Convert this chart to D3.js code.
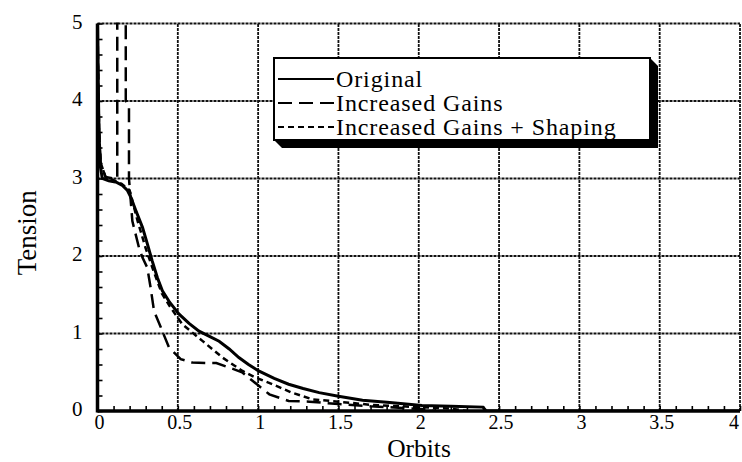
<!DOCTYPE html>
<html>
<head>
<meta charset="utf-8">
<script src="https://cdn.jsdelivr.net/npm/d3@7"></script>
<style>
  body { margin: 0; background: #fff; }
  text { font-family: "Liberation Serif", "DejaVu Serif", serif; fill: #000; }
</style>
</head>
<body>
<div id="chart"></div>
<script>
// tick labels
const xTicks = [0, 0.5, 1, 1.5, 2, 2.5, 3, 3.5, 4]
const yTicks = [0, 1, 2, 3, 4, 5]

// Original
const origX = [0, 0.004, 0.008, 0.012, 0.018, 0.03, 0.07, 0.12, 0.155, 0.185, 0.207, 0.238, 0.28, 0.31, 0.34, 0.373, 0.404, 0.45, 0.508, 0.57, 0.632, 0.7, 0.757, 0.82, 0.88, 0.94, 1.0, 1.1, 1.19, 1.28, 1.38, 1.5, 1.65, 1.82, 2.02, 2.2, 2.4, 2.42, 4.0]
const origY = [5.0, 4.3, 3.8, 3.4, 3.15, 3.0, 2.97, 2.95, 2.91, 2.85, 2.76, 2.59, 2.37, 2.16, 1.94, 1.72, 1.55, 1.4, 1.25, 1.13, 1.03, 0.96, 0.9, 0.8, 0.69, 0.6, 0.52, 0.42, 0.345, 0.29, 0.237, 0.19, 0.14, 0.11, 0.07, 0.06, 0.05, 0, 0]

// Increased Gains
const gainX = [0, 0.005, 0.01, 0.02, 0.05, 0.1, 0.123, 0.123, 0.176, 0.176, 0.196, 0.196, 0.217, 0.258, 0.28, 0.31, 0.33, 0.352, 0.394, 0.445, 0.518, 0.59, 0.68, 0.74, 0.82, 0.9, 0.965, 1.07, 1.19, 1.32, 1.5, 1.7, 1.9, 2.05, 2.1]
const gainY = [5.0, 4.2, 3.6, 3.2, 3.02, 3.0, 3.0, 5.3, 5.3, 4.0, 3.95, 3.0, 2.45, 2.11, 1.98, 1.85, 1.6, 1.29, 1.08, 0.82, 0.67, 0.625, 0.62, 0.62, 0.56, 0.5, 0.39, 0.215, 0.13, 0.12, 0.09, 0.06, 0.04, 0.02, 0]

// Increased Gains + Shaping
const shapeX = [0, 0.005, 0.01, 0.02, 0.05, 0.1, 0.15, 0.2, 0.25, 0.3, 0.35, 0.4, 0.45, 0.528, 0.653, 0.778, 0.9, 0.986, 1.09, 1.21, 1.34, 1.5, 1.7, 1.9, 2.0, 2.2, 2.3]
const shapeY = [5.0, 4.2, 3.6, 3.2, 3.02, 2.98, 2.93, 2.85, 2.45, 2.1, 1.8, 1.52, 1.35, 1.12, 0.905, 0.69, 0.52, 0.43, 0.345, 0.237, 0.15, 0.12, 0.08, 0.06, 0.05, 0.03, 0]

const names = ["Original", "Increased Gains", "Increased Gains + Shaping"]
const dashes = [null, "14,7", "6,4"]

const width = 742, height = 462
const margin = { left: 97.5, right: 2, top: 23.5, bottom: 51 }

var svg = d3.select("#chart").append("svg")
  .attr("width", width)
  .attr("height", height)

var x = d3.scaleLinear().domain([0, 4]).range([margin.left, width - margin.right])
var y = d3.scaleLinear().domain([0, 5]).range([height - margin.bottom, margin.top])

svg.append("clipPath").attr("id", "clip")
  .append("rect")
    .attr("x", x(0)).attr("y", y(5) - 1)
    .attr("width", x(4) - x(0) + 2).attr("height", y(0) - y(5) + 1)

// Grid
var grid = svg.append("g")
  .attr("stroke", "#111")
  .attr("stroke-width", 1.8)
  .attr("stroke-dasharray", "3,1")

grid.selectAll(".vg").data(xTicks.slice(1)).enter()
  .append("line")
    .attr("x1", d => x(d)).attr("x2", d => x(d))
    .attr("y1", y(0)).attr("y2", y(5))

grid.selectAll(".hg").data(yTicks.slice(1)).enter()
  .append("line")
    .attr("x1", x(0)).attr("x2", x(4))
    .attr("y1", d => y(d)).attr("y2", d => y(d))

// Minor ticks
var xAxis = d3.axisBottom(x).ticks(40).tickSize(-5).tickFormat("")
var yAxis = d3.axisLeft(y).ticks(25).tickSize(-5).tickFormat("")

svg.append("g")
  .attr("transform", "translate(0," + y(0) + ")")
  .call(xAxis)
  .call(g => g.select(".domain").remove())
  .call(g => g.selectAll("line").attr("stroke", "#000").attr("stroke-width", 1.6))

svg.append("g")
  .attr("transform", "translate(" + x(0) + ",0)")
  .call(yAxis)
  .call(g => g.select(".domain").remove())
  .call(g => g.selectAll("line").attr("stroke", "#000").attr("stroke-width", 1.6))

// Curves
var line = d3.line().x(d => x(d[0])).y(d => y(d[1]))
var series = [d3.zip(origX, origY), d3.zip(gainX, gainY), d3.zip(shapeX, shapeY)]

svg.append("g").attr("clip-path", "url(#clip)")
  .selectAll("path").data(series).enter()
    .append("path")
      .attr("d", line)
      .attr("fill", "none")
      .attr("stroke", "#000")
      .attr("stroke-width", (d, i) => i === 0 ? 3 : 2.5)
      .attr("stroke-dasharray", (d, i) => dashes[i])

// Axes lines
svg.append("line")
  .attr("x1", x(0)).attr("x2", x(4))
  .attr("y1", y(0)).attr("y2", y(0))
  .attr("stroke", "#000").attr("stroke-width", 3.5)

svg.append("line")
  .attr("x1", x(0)).attr("x2", x(0))
  .attr("y1", y(0) + 1.5).attr("y2", y(5))
  .attr("stroke", "#000").attr("stroke-width", 3.5)

// Tick labels
svg.selectAll(".xl").data(xTicks).enter()
  .append("text")
    .attr("x", d => d === 4 ? x(d) - 6 : x(d) + 2)
    .attr("y", y(0) + 18)
    .attr("text-anchor", "middle")
    .attr("font-size", 20)
    .text(d => d)

svg.selectAll(".yl").data(yTicks).enter()
  .append("text")
    .attr("x", x(0) - 15)
    .attr("y", d => y(d) + 5)
    .attr("text-anchor", "end")
    .attr("font-size", 21)
    .text(d => d)

// Axis titles
svg.append("text")
  .attr("x", 419).attr("y", 456.5)
  .attr("text-anchor", "middle")
  .attr("font-size", 25.5)
  .text("Orbits")

svg.append("text")
  .attr("transform", "translate(36," + (y(2.3)) + ") rotate(-90)")
  .attr("text-anchor", "middle")
  .attr("font-size", 27)
  .text("Tension")

// Legend
var lx = 274, ly = 58, lw = 376, lh = 82, sh = 8
var legend = svg.append("g")

legend.append("path")
  .attr("d", "M" + (lx + lw) + "," + ly + " l" + sh + "," + sh + " L" + (lx + lw + sh) + "," + (ly + lh + sh)
    + " L" + (lx + sh) + "," + (ly + lh + sh) + " l" + (-sh) + "," + (-sh) + " Z")
  .attr("fill", "#000")

legend.append("rect")
  .attr("x", lx).attr("y", ly)
  .attr("width", lw).attr("height", lh)
  .attr("fill", "#fff").attr("stroke", "#000").attr("stroke-width", 2)

var rows = legend.selectAll(".row").data(names).enter()
  .append("g")
    .attr("transform", (d, i) => "translate(" + (lx + 4) + "," + (ly + 21 + i * 24) + ")")

rows.append("line")
  .attr("x1", 0).attr("x2", 56)
  .attr("y1", 0).attr("y2", 0)
  .attr("stroke", "#000")
  .attr("stroke-width", 2)
  .attr("stroke-dasharray", (d, i) => dashes[i])

rows.append("text")
  .attr("x", 58).attr("y", 8)
  .attr("font-size", 24)
  .attr("letter-spacing", 0.9)
  .text(d => d)
</script>
</body>
</html>
